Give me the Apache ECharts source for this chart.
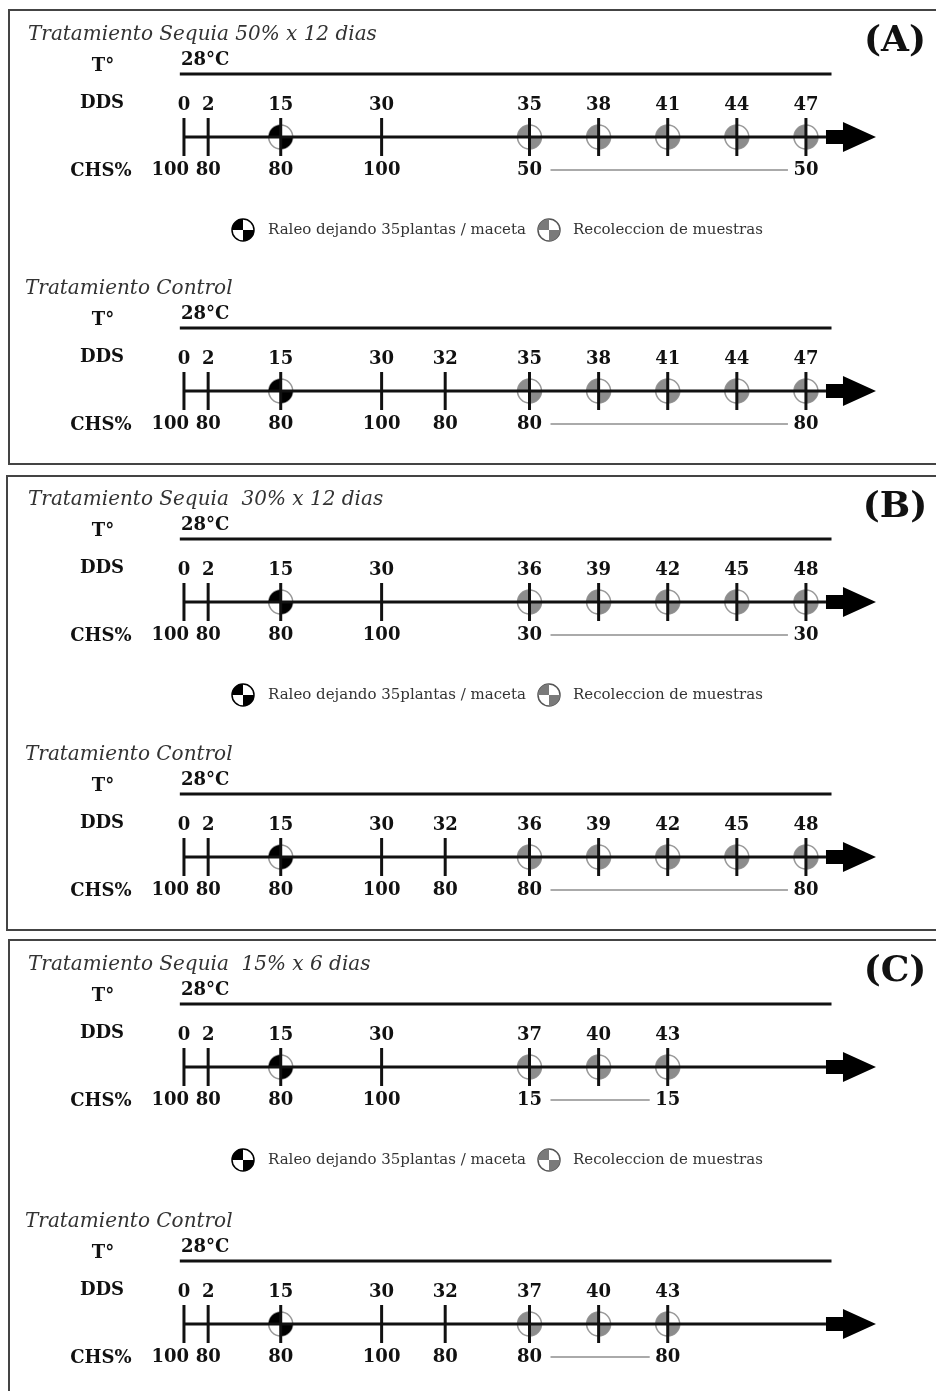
<!DOCTYPE html>
<html>
<head>
<meta charset="utf-8">
<script src="https://cdn.jsdelivr.net/npm/echarts@6/dist/echarts.min.js"></script>
<style>
  html, body { margin: 0; background: #fff; }
  #chart { width: 936px; height: 1391px; }
</style>
</head>
<body>
<div id="chart"></div>
<script>
// texts
const panelTags = ['(A)', '(B)', '(C)'];
const treatTitles = ['Tratamiento Sequia 50% x 12 dias', 'Tratamiento Sequia  30% x 12 dias', 'Tratamiento Sequia  15% x 6 dias'];
const controlTitle = 'Tratamiento Control';
const tempText = '28°C';
const legendTexts = ['Raleo dejando 35plantas / maceta', 'Recoleccion de muestras'];

// DDS (dias despues de siembra) and CHS% per timeline
const ddsA  = [0, 2, 15, 30, 35, 38, 41, 44, 47];
const chsA  = [100, 80, 80, 100, 50, null, null, null, 50];
const ddsAc = [0, 2, 15, 30, 32, 35, 38, 41, 44, 47];
const chsAc = [100, 80, 80, 100, 80, 80, null, null, null, 80];
const ddsB  = [0, 2, 15, 30, 36, 39, 42, 45, 48];
const chsB  = [100, 80, 80, 100, 30, null, null, null, 30];
const ddsBc = [0, 2, 15, 30, 32, 36, 39, 42, 45, 48];
const chsBc = [100, 80, 80, 100, 80, 80, null, null, null, 80];
const ddsC  = [0, 2, 15, 30, 37, 40, 43];
const chsC  = [100, 80, 80, 100, 15, null, 15];
const ddsCc = [0, 2, 15, 30, 32, 37, 40, 43];
const chsCc = [100, 80, 80, 100, 80, 80, null, 80];
const firstSample = [35, 36, 37];   // first sampling day in panel A, B, C
const raleoDay = 15;

// layout (schematic, not to scale)
const fixedDays = [0, 2, 15, 30, 32];
const slotX = [0, 0.35, 1.4, 2.86, 3.78, 5, 6, 7, 8, 9];
const axisY = [137, 391, 602, 857, 1067, 1324];
const X_MIN = -2.662, X_MAX = 10.882;
const LBL = 'bold 18px "DejaVu Serif"';

const timelines = [
  { dds: ddsA,  chs: chsA,  title: treatTitles[0], first: firstSample[0] },
  { dds: ddsAc, chs: chsAc, title: controlTitle,   first: firstSample[0] },
  { dds: ddsB,  chs: chsB,  title: treatTitles[1], first: firstSample[1] },
  { dds: ddsBc, chs: chsBc, title: controlTitle,   first: firstSample[1] },
  { dds: ddsC,  chs: chsC,  title: treatTitles[2], first: firstSample[2] },
  { dds: ddsCc, chs: chsCc, title: controlTitle,   first: firstSample[2] }
];

function slotOf (tl, day) {
  if (day < tl.first) return slotX[fixedDays.indexOf(day)];
  return slotX[5 + tl.dds.filter(d => d >= tl.first).indexOf(day)];
}

function marker (x, y, r, fill, stroke, bg) {
  return [
    { type: 'circle', shape: { cx: x, cy: y, r: r }, style: { fill: bg, stroke: stroke, lineWidth: 1.5 } },
    { type: 'sector', shape: { cx: x, cy: y, r0: 0, r: r, startAngle: Math.PI, endAngle: Math.PI * 1.5 }, style: { fill: fill } },
    { type: 'sector', shape: { cx: x, cy: y, r0: 0, r: r, startAngle: 0, endAngle: Math.PI * 0.5 }, style: { fill: fill } }
  ];
}

function txt (text, x, y, font, fill, align) {
  return { type: 'text', style: { text: text, x: x, y: y, font: font, fill: fill,
    align: align || 'center', textAlign: align || 'center', verticalAlign: 'middle', textVerticalAlign: 'middle' } };
}

const grid = [], xAxis = [], yAxis = [], series = [], graphic = [];

timelines.forEach((tl, g) => {
  const ay = axisY[g];
  // 1 unit = 1 px, 0 at the time axis, positive upwards
  grid.push({ left: 0, width: 936, top: ay - 70, height: 110 });
  xAxis.push({ gridIndex: g, type: 'value', min: X_MIN, max: X_MAX, show: false });
  yAxis.push({ gridIndex: g, type: 'value', min: -40, max: 70, show: false });

  // temperature bar
  series.push({ type: 'line', xAxisIndex: g, yAxisIndex: g, silent: true, symbol: 'none',
    data: [[slotX[0] - 0.06, 63], [9.37, 63]], lineStyle: { color: '#111', width: 3 } });
  // time axis
  series.push({ type: 'line', xAxisIndex: g, yAxisIndex: g, silent: true, symbol: 'none',
    data: [[slotX[0], 0], [9.29, 0]], lineStyle: { color: '#111', width: 3 } });
  // arrow head
  series.push({ type: 'custom', xAxisIndex: g, yAxisIndex: g, silent: true, data: [[9.29, 0]],
    renderItem: (params, api) => {
      const p = api.coord([api.value(0), api.value(1)]);
      const x = p[0], y = p[1];
      return { type: 'polygon', shape: { points: [[x, y - 7], [x + 17, y - 7], [x + 17, y - 15], [x + 50, y],
        [x + 17, y + 15], [x + 17, y + 7], [x, y + 7]] }, style: { fill: '#000' } };
    } });
  // events: ticks, markers, DDS and CHS labels
  series.push({ type: 'custom', xAxisIndex: g, yAxisIndex: g, silent: true,
    data: tl.dds.map(d => [slotOf(tl, d), 0]),
    renderItem: (params, api) => {
      const i = params.dataIndex;
      const day = tl.dds[i];
      const p = api.coord([api.value(0), api.value(1)]);
      const x = p[0], y = p[1];
      let kids = [];
      if (day === raleoDay) kids = kids.concat(marker(x, y, 12, '#000', '#999', 'none'));
      else if (day >= tl.first) kids = kids.concat(marker(x, y, 12, '#8c8c8c', '#999', 'none'));
      kids.push({ type: 'line', shape: { x1: x, y1: y - 19, x2: x, y2: y + 19 }, style: { stroke: '#111', lineWidth: 3 } });
      kids.push(txt(String(day), x, y - 32, LBL, '#111'));
      if (tl.chs[i] != null) {
        kids.push(i === 0 ? txt(String(tl.chs[i]), x + 5, y + 33, LBL, '#111', 'right')
                          : txt(String(tl.chs[i]), x, y + 33, LBL, '#111'));
      }
      if (i === tl.dds.length - 1) {
        const x0 = api.coord([slotOf(tl, tl.first), 0])[0];
        kids.push({ type: 'line', shape: { x1: x0 + 21, y1: y + 33, x2: x - 18, y2: y + 33 },
          style: { stroke: '#aaa', lineWidth: 2 } });
      }
      return { type: 'group', children: kids };
    } });

  // row labels and title
  graphic.push(txt(tl.title, g % 2 ? 25 : 28, ay - 102, 'italic 20px "DejaVu Serif"', '#333', 'left'));
  graphic.push(txt('T°', 103, ay - 71, LBL, '#111'));
  graphic.push(txt(tempText, 181, ay - 77, LBL, '#111', 'left'));
  graphic.push(txt('DDS', 102, ay - 34, LBL, '#111'));
  graphic.push(txt('CHS%', 101, ay + 34, LBL, '#111'));
});

// panel frames, tags and legends
const frameTop = [10, 476, 940];
const frameH = [454, 454, 470];
const frameLeft = [9, 7, 9];
panelTags.forEach((tag, k) => {
  graphic.push({ type: 'rect', shape: { x: frameLeft[k], y: frameTop[k], width: 960, height: frameH[k] },
    style: { fill: 'none', stroke: '#444', lineWidth: 2 } });
  graphic.push(txt(tag, 895, frameTop[k] + 32, 'bold 36px "DejaVu Serif"', '#111'));
  const ly = axisY[k * 2] + 93;
  marker(243, ly, 11, '#000', '#000', '#fff').forEach(m => graphic.push(m));
  graphic.push(txt(legendTexts[0], 268, ly, '15px "DejaVu Serif"', '#333', 'left'));
  marker(549, ly, 11, '#7a7a7a', '#555', '#fff').forEach(m => graphic.push(m));
  graphic.push(txt(legendTexts[1], 573, ly, '15px "DejaVu Serif"', '#333', 'left'));
});

const chart = echarts.init(document.getElementById('chart'));
chart.setOption({
  animation: false,
  grid: grid,
  xAxis: xAxis,
  yAxis: yAxis,
  series: series,
  graphic: { elements: graphic }
});
</script>
</body>
</html>
